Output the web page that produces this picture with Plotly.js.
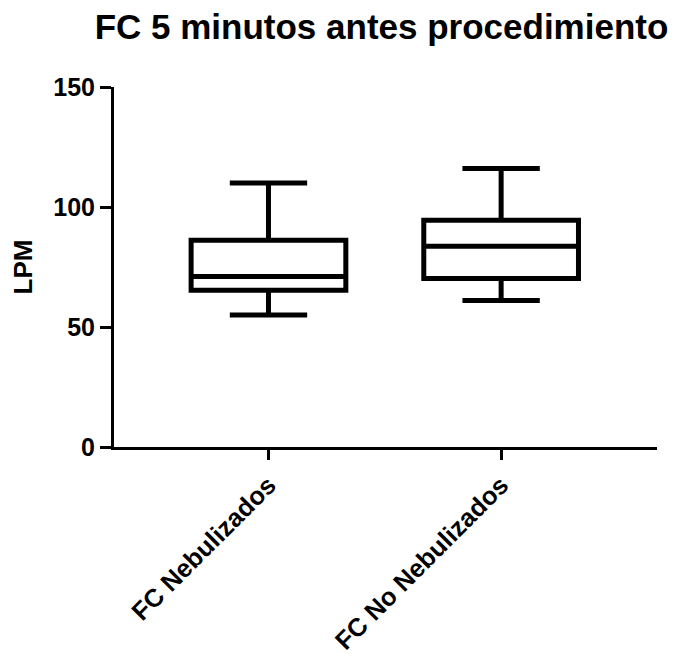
<!DOCTYPE html>
<html>
<head>
<meta charset="utf-8">
<script src="https://cdn.plot.ly/plotly-3.0.1.min.js"></script>
<style>html,body{margin:0;padding:0;background:#fff;}#chart{width:681px;height:660px;}</style>
</head>
<body>
<div id="chart"></div>
<script>
var categories = ["FC Nebulizados", "FC No Nebulizados"];
var lowerWhisker = [55, 61];
var q1Values = [65.3, 70.2];
var medianValues = [71, 83.6];
var q3Values = [86.1, 94.5];
var upperWhisker = [110, 116];
var yTickValues = [0, 50, 100, 150];
var yTickLabels = ["0", "50", "100", "150"];

var FONT = "Liberation Sans, Arial, Helvetica, sans-serif";

var trace = {
  type: "box",
  x: categories,
  q1: q1Values,
  median: medianValues,
  q3: q3Values,
  lowerfence: lowerWhisker,
  upperfence: upperWhisker,
  width: 0.665,
  whiskerwidth: 0.5,
  boxpoints: false,
  fillcolor: "rgba(0,0,0,0)",
  line: {color: "#000000", width: 5},
  hoverinfo: "skip",
  showlegend: false
};

var layout = {
  width: 681,
  height: 660,
  paper_bgcolor: "#ffffff",
  plot_bgcolor: "#ffffff",
  margin: {l: 114.4, r: 24.3, t: 86.7, b: 213.3, pad: 0},
  showlegend: false,
  title: {
    text: "FC 5 minutos antes procedimiento",
    font: {family: FONT, size: 35, color: "#000000", weight: 700},
    x: 381.5 / 681,
    xanchor: "center",
    xref: "container",
    y: 1 - 27 / 660,
    yanchor: "middle",
    yref: "container"
  },
  xaxis: {
    type: "category",
    range: [-0.664, 1.67],
    showgrid: false,
    zeroline: false,
    showline: true,
    linecolor: "#000000",
    linewidth: 3,
    ticks: "outside",
    ticklen: 10,
    tickwidth: 3,
    tickcolor: "#000000",
    tickangle: -45,
    tickfont: {family: FONT, size: 25.5, color: "#000000", weight: 700},
    automargin: false,
    fixedrange: true
  },
  yaxis: {
    range: [0, 150],
    tickvals: yTickValues,
    ticktext: yTickLabels,
    showgrid: false,
    zeroline: false,
    showline: true,
    linecolor: "#000000",
    linewidth: 3,
    ticks: "outside",
    ticklen: 11,
    tickwidth: 3,
    tickcolor: "#000000",
    tickfont: {family: FONT, size: 25, color: "#000000", weight: 700},
    title: {
      text: "LPM",
      font: {family: FONT, size: 26, color: "#000000", weight: 700},
      standoff: 14
    },
    automargin: false,
    fixedrange: true
  }
};

Plotly.newPlot("chart", [trace], layout, {displayModeBar: false, staticPlot: true});
</script>
</body>
</html>
